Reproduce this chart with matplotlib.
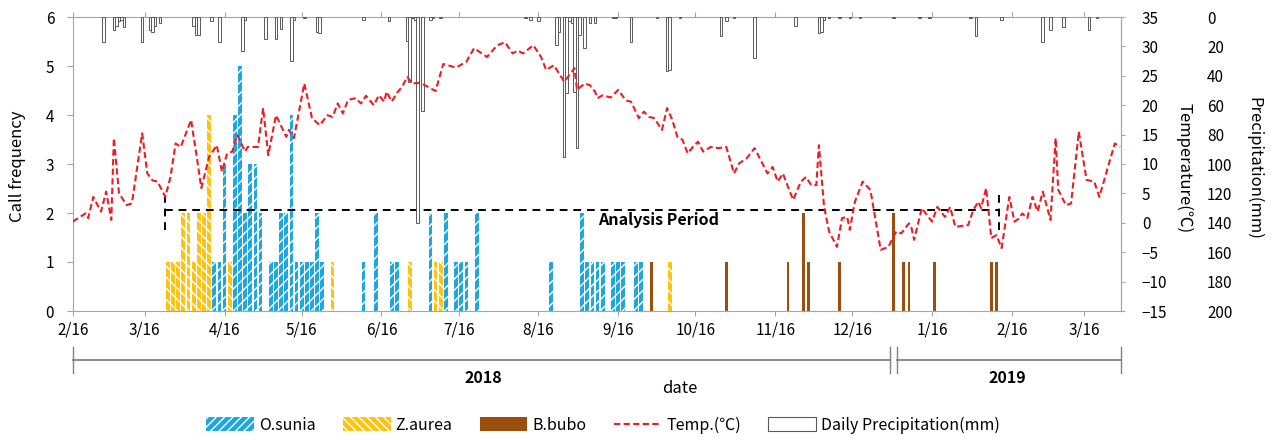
import numpy as np
import pandas as pd
import matplotlib
matplotlib.use('Agg')
import matplotlib.pyplot as plt
from matplotlib.patches import Patch
from matplotlib.lines import Line2D

plt.rcParams['font.family'] = ['Noto Sans CJK KR', 'DejaVu Sans']
plt.rcParams['hatch.linewidth'] = 1.0

start = pd.Timestamp('2018-02-16')

# daily mean temperature (days since 2018-02-16)
temp_day = [0, 5, 6, 8, 11, 13, 15, 16, 18, 21, 23, 27, 29, 31, 33, 36, 38, 40, 42, 46,
            48, 50, 53, 56, 58, 60, 62, 64, 67, 68, 72, 74, 76, 79, 83, 84, 86, 90, 93, 96,
            99, 101, 103, 105, 107, 110, 112, 114, 117, 119, 121, 122, 124, 126, 128, 130, 132, 135, 136, 139,
            141, 144, 149, 153, 156, 161, 165, 168, 171, 173, 175, 179, 182, 184, 187, 191, 193, 195, 196, 199,
            201, 203, 204, 206, 209, 212, 215, 217, 220, 222, 224, 226, 229, 231, 233, 235, 237, 239, 241, 243,
            245, 248, 251, 254, 257, 259, 262, 265, 268, 270, 272, 274, 276, 278, 280, 283, 285, 287, 289, 290,
            292, 294, 297, 299, 301, 302, 304, 307, 310, 312, 314, 317, 320, 322, 325, 326, 327, 330, 332, 334,
            336, 339, 341, 343, 346, 348, 350, 352, 353, 355, 357, 359, 361, 364, 366, 368, 369, 371, 373, 375,
            377, 380, 382, 383, 386, 388, 391, 394, 397, 399, 402, 405, 407]
temp_c = [0.2, 1.6, 0.8, 4.4, 1.9, 5.3, 0.5, 14.4, 5.0, 3.0, 3.3, 15.2, 8.4, 7.2, 7.0, 4.4, 7.8, 13.5, 12.9, 17.5,
          11.8, 5.9, 11.2, 13.2, 8.7, 11.8, 12.1, 14.9, 12.1, 12.9, 12.9, 19.5, 11.5, 18.3, 14.6, 15.8, 14.4, 23.7, 17.8, 16.6,
          18.3, 18.0, 20.3, 18.6, 20.9, 21.2, 20.3, 21.6, 20.0, 21.7, 20.6, 22.3, 20.6, 22.1, 23.1, 24.8, 23.7, 23.8, 23.6, 22.9,
          22.4, 27.0, 26.4, 27.4, 29.7, 28.2, 30.2, 30.7, 28.8, 29.3, 28.8, 30.2, 28.2, 26.0, 26.8, 24.0, 25.1, 26.3, 22.6, 23.7,
          23.4, 22.3, 21.2, 21.7, 21.3, 22.6, 20.8, 20.6, 17.8, 18.9, 18.0, 17.8, 15.8, 19.5, 17.5, 14.6, 14.1, 11.8, 12.9, 13.8,
          12.1, 12.9, 12.7, 12.9, 8.4, 10.1, 11.0, 12.7, 10.1, 8.4, 9.5, 7.0, 8.4, 6.1, 3.9, 7.0, 7.8, 6.4, 6.4, 13.2,
          2.7, -1.5, -4.1, 0.8, 1.0, -1.2, 3.6, 7.0, 5.6, 0.5, -4.6, -4.1, -1.5, -1.8, -0.1, -0.9, -2.9, 2.5, 1.3, 0.2,
          2.7, 1.0, 2.7, -0.7, -0.5, -0.4, 2.2, 3.6, 2.5, 5.9, -2.6, -2.1, -4.3, 4.4, 0.2, 0.8, 1.6, 0.8, 4.4, 1.9,
          5.3, 0.5, 14.4, 5.6, 3.0, 3.3, 15.5, 7.3, 7.0, 4.4, 9.0, 13.5, 12.9]

# daily precipitation
rain_day = [12, 16, 17, 18, 19, 20, 27, 30, 31, 32, 34, 47, 48, 49, 54, 57, 66, 67, 75, 79,
            81, 85, 86, 90, 95, 96, 113, 123, 130, 131, 132, 133, 134, 136, 139, 140, 143, 176, 178, 181,
            188, 189, 191, 192, 193, 194, 195, 196, 197, 199, 201, 203, 210, 211, 217, 227, 231, 232, 236, 252,
            254, 257, 265, 281, 290, 291, 292, 294, 298, 302, 306, 319, 329, 333, 349, 351, 361, 377, 380, 385,
            395, 398]
rain_mm = [17, 9, 6, 3, 2, 7, 17, 9, 10, 6, 4, 6, 12, 12, 3, 17, 23, 2, 15, 15,
           8, 30, 2, 1, 10, 11, 2, 3, 16, 44, 1, 2, 140, 64, 2, 1, 1, 1, 2, 3,
           19, 10, 95, 52, 3, 4, 51, 89, 12, 21, 4, 4, 1, 1, 17, 1, 37, 36, 1, 13,
           3, 1, 28, 6, 11, 10, 2, 1, 1, 1, 1, 1, 1, 1, 1, 13, 2, 17, 9, 7,
           9, 1]

# call frequency per species
osunia_day = [55, 57, 59, 63, 65, 67, 69, 71, 73, 77, 79, 81, 83, 85, 87, 89, 91, 93, 95, 97,
              113, 118, 124, 126, 139, 145, 149, 151, 153, 157, 186, 198, 200, 202, 204, 206, 210, 212, 214, 219,
              221]
osunia_n = [1, 1, 3, 4, 5, 2, 3, 3, 2, 1, 1, 2, 2, 4, 1, 1, 1, 1, 2, 1,
            1, 2, 1, 1, 2, 2, 1, 1, 1, 2, 1, 2, 1, 1, 1, 1, 1, 1, 1, 1,
            1]
zaurea_day = [37, 39, 41, 43, 45, 47, 49, 51, 53, 61, 71, 101, 131, 141, 143, 232]
zaurea_n = [1, 1, 1, 2, 2, 1, 2, 2, 4, 1, 1, 1, 1, 1, 1, 1]
bbubo_day = [225, 254, 278, 284, 286, 298, 319, 323, 325, 335, 357, 359]
bbubo_n = [1, 1, 1, 2, 1, 1, 2, 1, 1, 1, 1, 1]

analysis_start, analysis_end, analysis_level = 36, 360, 2.06
years = ['2018', '2019']

tick_dates = pd.date_range('2018-02-16', '2019-03-16', freq=pd.DateOffset(months=1))
tick_pos = [(d - start).days for d in tick_dates]
tick_labels = [f"{d.month}/{d.day}" for d in tick_dates]
year_split = (pd.Timestamp('2019-01-01') - start).days
x_max = 407.4

grey = '#A6A6A6'
blue = '#1DA6E0'
yellow = '#FFC20E'
brown = '#9C4E0E'
red = '#EE1C25'
fs = 11

fig = plt.figure(figsize=(12.73, 4.4), dpi=100)
ax = fig.add_axes([72.7 / 1273, 1 - 311 / 440, (1121 - 72.7) / 1273, 294 / 440])
ax_p = ax.twinx()
ax_t = ax.twinx()

# call frequency bars
ax.bar(zaurea_day, zaurea_n, width=1.45, color=yellow, edgecolor='white', linewidth=0, hatch='\\\\\\')
ax.bar(osunia_day, osunia_n, width=1.45, color=blue, edgecolor='white', linewidth=0, hatch='///')
ax.bar(bbubo_day, bbubo_n, width=1.1, color=brown, linewidth=0)

# analysis period
ax.plot([analysis_start, analysis_end], [analysis_level] * 2, color='black', ls=(0, (4, 3)), lw=1.4)
for xv in (analysis_start, analysis_end):
    ax.plot([xv, xv], [1.66, 2.47], color='black', ls=(0, (4, 3)), lw=1.4)
ax.text(227.5, 1.86, 'Analysis Period', ha='center', va='center', fontsize=11.5, fontweight='bold')

ax.set_xlim(0, x_max)
ax.set_ylim(0, 6)
ax.set_yticks(range(7))
ax.set_xticks(tick_pos)
ax.set_xticklabels(tick_labels)
ax.tick_params(axis='x', top=True, direction='out', length=3.6, color=grey, labelsize=fs, pad=4)
ax.tick_params(axis='y', direction='out', length=4.3, color=grey, labelsize=fs, pad=9)
for s in ax.spines.values():
    s.set_color(grey)

# precipitation (inverted)
ax_p.bar(rain_day, rain_mm, width=1.0, facecolor='white', edgecolor='#595959', linewidth=0.7)
ax_p.set_ylim(200, 0)
ax_p.set_yticks(range(0, 201, 20))
for s in ax_p.spines.values():
    s.set_visible(False)
ax_p.spines['right'].set_position(('outward', 58))
ax_p.tick_params(axis='y', length=0, pad=4, labelsize=fs)

# temperature
ax_t.plot(temp_day, temp_c, color=red, ls=(0, (3, 1.6)), lw=1.5)
ax_t.set_ylim(-15, 35)
ax_t.set_yticks(range(-15, 36, 5))
for name, s in ax_t.spines.items():
    s.set_visible(name == 'right')
    s.set_color(grey)
ax_t.tick_params(axis='y', direction='out', length=3, color=grey, labelsize=fs, pad=12)

fig.text(18 / 1273, 1 - 166 / 440, 'Call frequency', rotation=90, ha='center', va='center', fontsize=12)
fig.text(1184 / 1273, 1 - 168 / 440, 'Temperature(℃)', rotation=270, ha='center', va='center', fontsize=12)
fig.text(1254 / 1273, 1 - 168 / 440, 'Precipitation(mm)', rotation=270, ha='center', va='center', fontsize=12)

# year bracket under the date axis
trans = ax.get_xaxis_transform()
yb, y0, y1 = -0.1667, -0.1224, -0.2109
bc = '#808080'
for a, b in [(0, year_split - 1.2), (year_split + 1.2, x_max)]:
    ax.plot([a, b], [yb, yb], color=bc, lw=1.3, transform=trans, clip_on=False)
    for xv in (a, b):
        ax.plot([xv, xv], [y0, y1], color=bc, lw=1.0, transform=trans, clip_on=False)
ax.text(year_split / 2, -0.228, years[0], transform=trans,
        ha='center', va='center', fontsize=11.5, fontweight='bold')
ax.text((year_split + x_max) / 2, -0.228, years[1], transform=trans,
        ha='center', va='center', fontsize=11.5, fontweight='bold')
ax.text((680 - 72.7) / 1048.3, -0.262, 'date', transform=ax.transAxes, ha='center', va='center', fontsize=12)

handles = [
    Patch(facecolor=blue, edgecolor='white', linewidth=0, hatch='////', label='O.sunia'),
    Patch(facecolor=yellow, edgecolor='white', linewidth=0, hatch='\\\\\\\\', label='Z.aurea'),
    Patch(facecolor=brown, label='B.bubo'),
    Line2D([], [], color=red, ls=(0, (3, 1.6)), lw=1.5, label='Temp.(℃)'),
    Patch(facecolor='white', edgecolor='#595959', linewidth=0.8, label='Daily Precipitation(mm)'),
]
fig.legend(handles=handles, loc='center', bbox_to_anchor=(603 / 1273, 1 - 425 / 440), ncol=5, frameon=False,
           fontsize=11.5, handlelength=3.0, handleheight=0.9, handletextpad=0.3, columnspacing=1.7)

fig.savefig('out.png', dpi=100)
